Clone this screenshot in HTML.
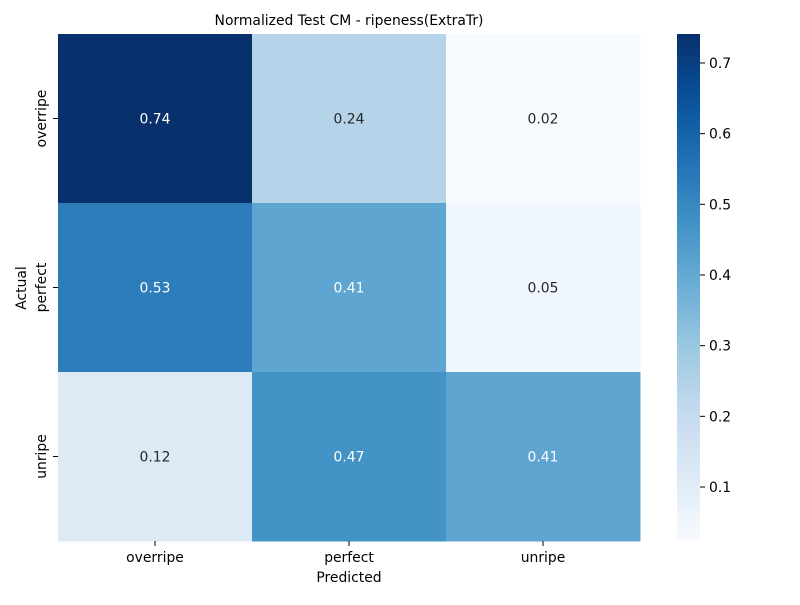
<!DOCTYPE html>
<html><head><meta charset="utf-8"><style>
body{margin:0;background:#fff;}
svg text{font-family:"DejaVu Sans","Liberation Sans",sans-serif;}
</style></head><body>
<svg id="chart" width="800" height="600" xmlns="http://www.w3.org/2000/svg">
<text x="349" y="25" font-size="13.9" text-anchor="middle" fill="#000">Normalized Test CM - ripeness(ExtraTr)</text>
<text x="349" y="582" font-size="13.9" text-anchor="middle" fill="#000">Predicted</text>
<text x="26" y="288" font-size="13.9" text-anchor="middle" fill="#000" transform="rotate(-90 26 288)">Actual</text>
<g id="cells"></g>
<g id="cbar"></g>
</svg>
<script>
const categories = ["overripe","perfect","unripe"];
const rowValues0 = [0.74,0.24,0.02];
const rowValues1 = [0.53,0.41,0.05];
const rowValues2 = [0.12,0.47,0.41];
const matrix = [rowValues0,rowValues1,rowValues2];
const cbarTicks = [0.1,0.2,0.3,0.4,0.5,0.6,0.7];
const vmin = 0.0236, vmax = 0.741;

const NS="http://www.w3.org/2000/svg";
const X0=58,X1=640,Y0=34,Y1=541;
const FS=13.9;
const cw=(X1-X0)/categories.length, ch=(Y1-Y0)/categories.length;
const stops=["#f7fbff","#deebf7","#c6dbef","#9ecae1","#6baed6","#4292c6","#2171b5","#08519c","#08306b"];
function hex(h){return [1,3,5].map(i=>parseInt(h.substr(i,2),16));}
function cmap(v){let t=Math.max(0,Math.min(1,(v-vmin)/(vmax-vmin)))*(stops.length-1);let i=Math.min(Math.floor(t),stops.length-2),f=t-i;const a=hex(stops[i]),b=hex(stops[i+1]);return a.map((c,k)=>Math.round(c+(b[k]-c)*f));}
function lum(c){const l=c.map(x=>{x/=255;return x<=0.03928?x/12.92:Math.pow((x+0.055)/1.055,2.4)});return 0.2126*l[0]+0.7152*l[1]+0.0722*l[2];}
function mk(tag,attrs,parent){const e=document.createElementNS(NS,tag);for(const k in attrs)e.setAttribute(k,attrs[k]);parent.appendChild(e);return e;}
const xs=i=>X0+i*cw, ys=j=>Y0+j*ch;
const cells=document.getElementById('cells');
matrix.forEach((row,j)=>row.forEach((v,i)=>{
  const c=cmap(v);
  const r=mk('rect',{x:xs(i),y:ys(j),width:cw+0.5,height:ch+0.5,fill:`rgb(${c})`},cells);
  
  
  const t=mk('text',{x:xs(i)+cw/2,y:ys(j)+ch/2+5,'font-size':FS,'text-anchor':'middle',fill:lum(c)>0.408?'#262626':'#ffffff'},cells);
  t.textContent=v.toFixed(2);
  
  
}));
categories.forEach((c,i)=>{
  const cx=xs(i)+cw/2;
  mk('line',{x1:cx,x2:cx,y1:Y1,y2:Y1+5,stroke:'#000'},cells);
  const t=mk('text',{x:cx,y:Y1+21,'font-size':FS,'text-anchor':'middle'},cells);
  t.textContent=c;
  
  
  const cy=ys(i)+ch/2;
  mk('line',{x1:X0-5,x2:X0,y1:cy,y2:cy,stroke:'#000'},cells);
  const u=mk('text',{x:46,y:cy,'font-size':FS,'text-anchor':'middle',transform:`rotate(-90 46 ${cy})`},cells);
  u.textContent=c;
  
  
});
const cb=document.getElementById('cbar');
const CX=677,CW=23;
const defs=mk('defs',{},cb);
const g=mk('linearGradient',{id:'cbg',x1:0,y1:1,x2:0,y2:0},defs);
for(let k=0;k<=20;k++){const v=vmin+(vmax-vmin)*k/20;mk('stop',{offset:k/20,'stop-color':`rgb(${cmap(v)})`},g);}
const cr=mk('rect',{x:CX,y:Y0,width:CW,height:Y1-Y0,fill:'url(#cbg)'},cb);


const cy=v=>Y1-(v-vmin)/(vmax-vmin)*(Y1-Y0);
cbarTicks.forEach(v=>{
  mk('line',{x1:CX+CW,x2:CX+CW+5,y1:cy(v),y2:cy(v),stroke:'#000'},cb);
  const t=mk('text',{x:CX+CW+9,y:cy(v)+5,'font-size':FS},cb);
  t.textContent=v.toFixed(1);
  
  
});
</script>
</body></html>
